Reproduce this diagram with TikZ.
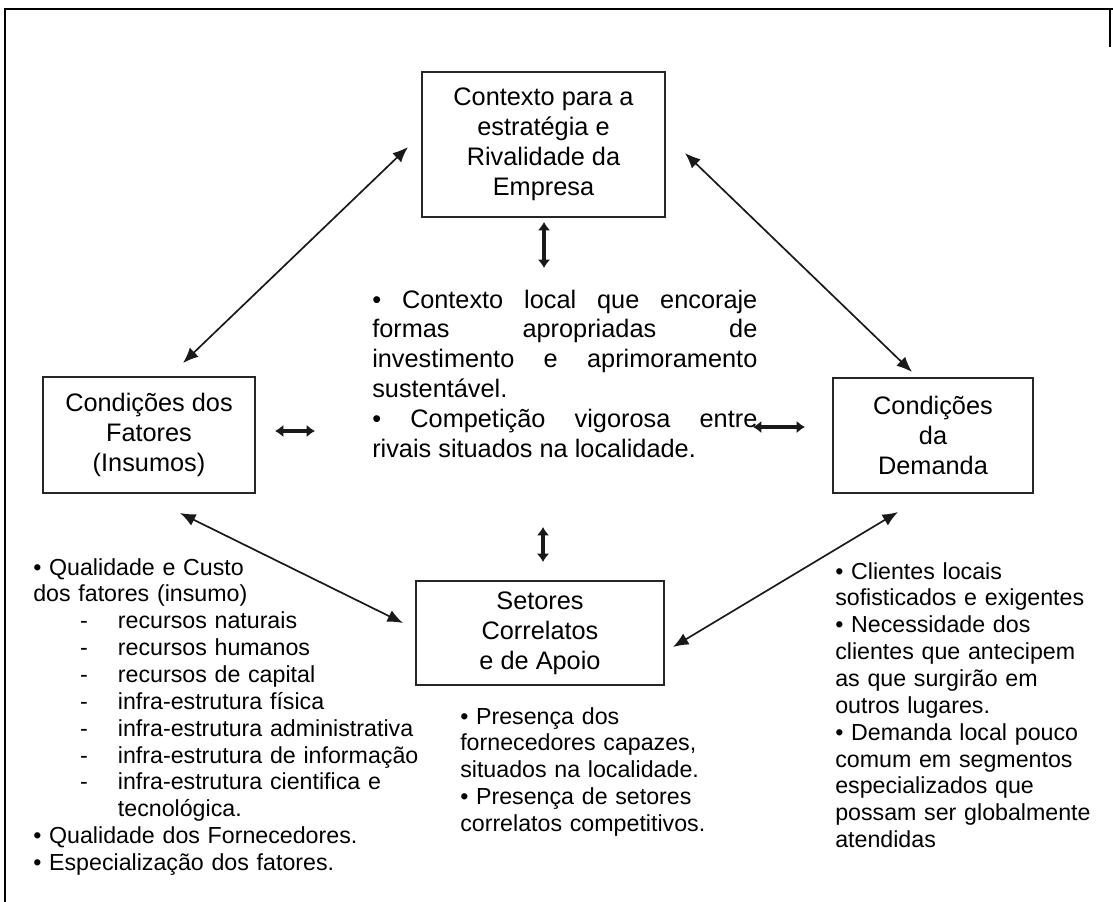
\documentclass[tikz,border=0pt]{standalone}
\usepackage{fontspec}
\setmainfont{Liberation Sans}
\usetikzlibrary{arrows.meta}
\setlength{\parindent}{0pt}
\newcommand{\traco}{\hspace*{33.3pt}\makebox[26.9pt][l]{-}}

\begin{document}
\begin{tikzpicture}[x=0.025cm, y=-0.025cm,
    caixa/.style 2 args={draw=black!85, line width=1.3pt, minimum width=#1, minimum height=#2,
        inner sep=0pt, align=center, font=\fontsize{18}{21.3}\selectfont},
    lista/.style={inner sep=0pt, anchor=base west, text width=#1, align=left,
        font=\fontsize{16.5}{19.1}\selectfont},
    seta/.style={<->, >={Latex[length=11pt,width=9pt]}, line width=1.2pt, black!90},
    setacurta/.style={<->, >={Latex[length=6pt,width=9pt]}, line width=2.6pt, black!90}]
    \useasboundingbox (0,0) rectangle (1113,902);
    % moldura
    \draw[line width=2pt] (4,9) -- (1113,9);
    \draw[line width=1.4pt] (5,9) -- (5,902);
    \draw[line width=1.4pt] (1110,9) -- (1110,47);
    % caixas
    \node[caixa={6.075cm}{3.625cm}] (contexto) at (543.5,144.5) {Contexto para a\\estratégia e\\Rivalidade da\\Empresa};
    \node[caixa={5.3cm}{2.9cm}] (fatores) at (149,435) {Condições dos\\Fatores\\(Insumos)};
    \node[caixa={5cm}{2.875cm}] (demanda) at (933,435.5) {Condições\\da\\Demanda};
    \node[caixa={6.2cm}{2.6cm}] (setores) at (540,633) {Setores\\Correlatos\\e de Apoio};
    % textos
    \node[inner sep=0pt, anchor=base west, text width=9.625cm, align=justify,
        font=\fontsize{18}{21.3}\selectfont] (centro) at (372,308)
        {• Contexto local que encoraje\linebreak formas apropriadas de\linebreak
         investimento e aprimoramento\linebreak sustentável.\\
         • Competição vigorosa entre\linebreak rivais situados na localidade.};
    \node[lista=9.8cm] (insumos) at (33,575) {• Qualidade e Custo\\dos fatores (insumo)\\
        \traco recursos naturais\\\traco recursos humanos\\\traco recursos de capital\\
        \traco infra-estrutura física\\\traco infra-estrutura administrativa\\
        \traco infra-estrutura de informação\\\traco infra-estrutura cientifica e\\
        \hspace*{60.2pt}tecnológica.\\• Qualidade dos Fornecedores.\\• Especialização dos fatores.};
    \node[lista=6.5cm] (apoio) at (460,724) {• Presença dos\\fornecedores capazes,\\situados na localidade.\\
        • Presença de setores\\correlatos competitivos.};
    \node[lista=6.6cm] (clientes) at (835,579) {• Clientes locais\\sofisticados e exigentes\\• Necessidade dos\\
        clientes que antecipem\\as que surgirão em\\outros lugares.\\• Demanda local pouco\\
        comum em segmentos\\especializados que\\possam ser globalmente\\atendidas};
    % pontas das setas
    \coordinate (fa1) at (183,363); \coordinate (co1) at (408,147);
    \coordinate (co2) at (685,153); \coordinate (de1) at (912,372);
    \coordinate (fa2) at (180,513); \coordinate (se1) at (403,623);
    \coordinate (se2) at (673,647); \coordinate (de2) at (898,512);
    \coordinate (co3) at (544,222); \coordinate (ce1) at (544,268);
    \coordinate (ce2) at (543,527); \coordinate (se3) at (543,562);
    \coordinate (fa3) at (275,431); \coordinate (ce3) at (315,431);
    \coordinate (ce4) at (753,427); \coordinate (de3) at (805,427);
    % setas
    \draw[seta] (fa1) -- (co1);
    \draw[seta] (co2) -- (de1);
    \draw[seta] (fa2) -- (se1);
    \draw[seta] (se2) -- (de2);
    \draw[setacurta] (co3) -- (ce1);
    \draw[setacurta] (ce2) -- (se3);
    \draw[setacurta] (fa3) -- (ce3);
    \draw[setacurta] (ce4) -- (de3);
\end{tikzpicture}
\end{document}
